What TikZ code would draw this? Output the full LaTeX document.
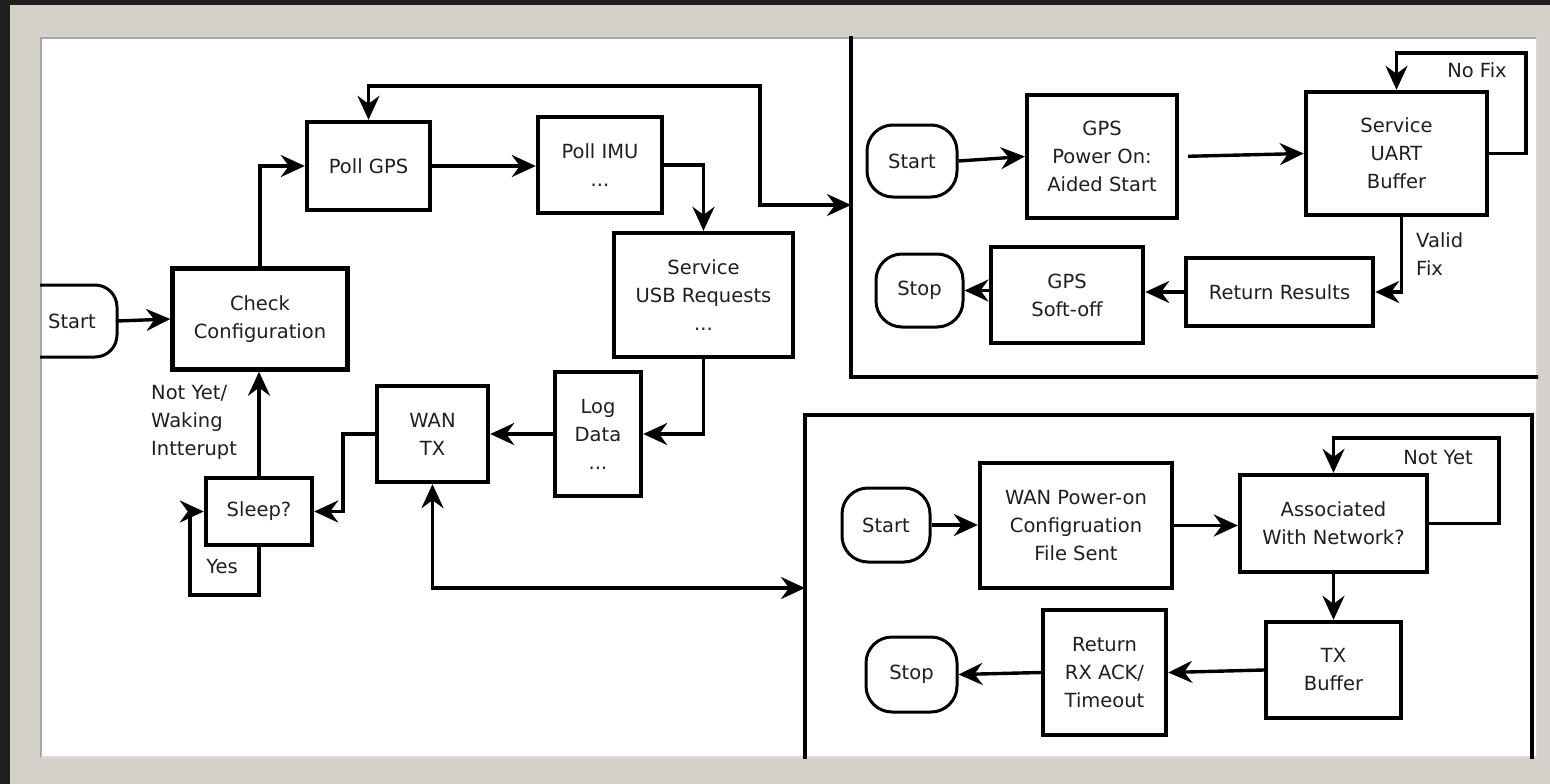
\documentclass[tikz,border=0pt]{standalone}
\usepackage{fontspec}
\setmainfont{DejaVu Sans}
\usetikzlibrary{arrows.meta}
\definecolor{framegray}{HTML}{D4D1CA}
\definecolor{darkout}{HTML}{1E1E1E}
\definecolor{txtcol}{HTML}{1E1E26}
\begin{document}
\begin{tikzpicture}[x=1pt,y=-1pt,
  txt/.style={font=\fontsize{19.5}{28}\selectfont, text=txtcol},
  box/.style={txt, draw, line width=4.4pt, align=center, inner sep=0pt},
  term/.style={txt, draw, line width=3pt, rounded corners=26pt, align=center, inner sep=0pt},
  tip/.tip={Stealth[length=24pt,width=22pt,inset=8pt]},
  conn/.style={line width=3.4pt, -tip},
  both/.style={line width=3.4pt, tip-tip},
  lbl/.style={txt, inner sep=0pt, align=left},
  panel/.style={line width=3.6pt}
]
\useasboundingbox (0,0) rectangle (1550,784);
% frame
\fill[darkout] (0,0) rectangle (1550,784);
\fill[framegray] (10,5) rectangle (1550,784);
\fill[white] (40,37) rectangle (1538,758);
\draw[black!35, line width=2pt] (41,758) -- (41,38) -- (1537,38);
\draw[black!15, line width=1.5pt] (1537,38) -- (1537,757) -- (41,757);

\begin{scope}
\clip (40,37) rectangle (1538,758);

% ---------- main loop ----------
\node[txt, minimum width=90, minimum height=72, inner sep=0pt] (startL) at (72,321) {Start};
\draw[line width=3pt, rounded corners=22pt] (20,285) -- (117,285) -- (117,357) -- (20,357);

\node[box, minimum width=175, minimum height=101] (check) at (260,319) {Check\\Configuration};
\node[box, minimum width=123, minimum height=88] (pollgps) at (368.5,166) {Poll GPS};
\node[box, minimum width=124, minimum height=96] (pollimu) at (600,165) {Poll IMU\\...};
\node[box, minimum width=179, minimum height=124] (usb) at (703.5,295) {Service\\USB Requests\\...};
\node[box, minimum width=86, minimum height=124] (logd) at (598,434) {Log\\Data\\...};
\node[box, minimum width=111, minimum height=96] (wantx) at (432.5,434) {WAN\\TX};
\node[box, minimum width=106, minimum height=67] (sleep) at (259,511.5) {Sleep?};

\draw[conn] (startL.east) -- (check.west);
\draw[conn] (check.north) |- (pollgps.west);
\draw[conn] (pollgps.east) -- (pollimu.west |- pollgps.east);
\draw[conn] (pollimu.east) -| (usb.north);
\draw[conn] (usb.south) |- (logd.east);
\draw[conn] (logd.west) -- (wantx.east);
\draw[conn] (wantx.west) -- ++(-32,0) |- (sleep.east);
\draw[conn] (sleep.north) -- (sleep.north |- check.south);
\coordinate (yesc) at (190,595);
\draw[conn] (sleep.south) |- (yesc) |- (sleep.west);

\node[lbl, anchor=west] (lblwake) at (151,422) {Not Yet/\\Waking\\Intterupt};
\node[lbl] (lblyes) at (222,567) {Yes};

% links to panels
\coordinate (gpsin) at (851,205);
\coordinate (gpsturn) at (760,86);
\draw[both] (pollgps.north) |- (gpsturn) |- (gpsin);
\coordinate (wanin) at (805,588);
\draw[both] (wantx.south) |- (wanin);

% ---------- GPS panel ----------
\draw[panel] (851,20) -- (851,377) -- (1560,377);
\node[term, minimum width=90, minimum height=72] (gstart) at (912,161) {Start};
\node[box, minimum width=150, minimum height=123] (gpson) at (1102,156.5) {GPS\\Power On:\\Aided Start};
\node[box, minimum width=181, minimum height=123] (uart) at (1396.5,153.5) {Service\\UART\\Buffer};
\node[box, minimum width=187, minimum height=68] (ret) at (1279.5,292) {Return Results};
\node[box, minimum width=152, minimum height=96] (soft) at (1067,295) {GPS\\Soft-off};
\node[term, minimum width=87, minimum height=73] (gstop) at (919.5,290.5) {Stop};

\draw[conn] (gstart.east) -- (gpson.west);
\draw[conn, shorten <=9pt] (gpson.east) -- (uart.west);
\coordinate (nofixc) at (1526,53);
\draw[conn] (uart.east) -| (nofixc) -| (uart.north);
\node[lbl] (lblnofix) at (1477,70) {No Fix};
\draw[conn] ([xshift=5pt]uart.south) |- (ret.east);
\node[lbl, anchor=west] (lblvalid) at (1416,254) {Valid\\Fix};
\draw[conn] (ret.west) -- (soft.east |- ret.west);
\draw[conn] (soft.west |- gstop.east) -- (gstop.east);

% ---------- WAN panel ----------
\draw[panel] (805,780) -- (805,415) -- (1532,415) -- (1532,780);
\node[term, minimum width=88, minimum height=74] (wstart) at (886,525) {Start};
\node[box, minimum width=192, minimum height=125] (wanon) at (1076,525.5) {WAN Power-on\\Configruation\\File Sent};
\node[box, minimum width=187, minimum height=97] (assoc) at (1333.5,523.5) {Associated\\With Network?};
\node[box, minimum width=135, minimum height=96] (txbuf) at (1333.5,670) {TX\\Buffer};
\node[box, minimum width=123, minimum height=125] (retrx) at (1104.5,672.5) {Return\\RX ACK/\\Timeout};
\node[term, minimum width=91, minimum height=75] (wstop) at (911.5,674.5) {Stop};

\draw[conn] (wstart.east) -- (wanon.west |- wstart.east);
\draw[conn] (wanon.east) -- (assoc.west |- wanon.east);
\coordinate (notyetc) at (1499,438);
\draw[conn] (assoc.east) -| (notyetc) -| (assoc.north);
\node[lbl] (lblnotyet) at (1438,458) {Not Yet};
\draw[conn] (assoc.south) -- (txbuf.north);
\draw[conn] (txbuf.west) -- (retrx.east);
\draw[conn] (retrx.west) -- (wstop.east);
\end{scope}
\end{tikzpicture}
\end{document}
